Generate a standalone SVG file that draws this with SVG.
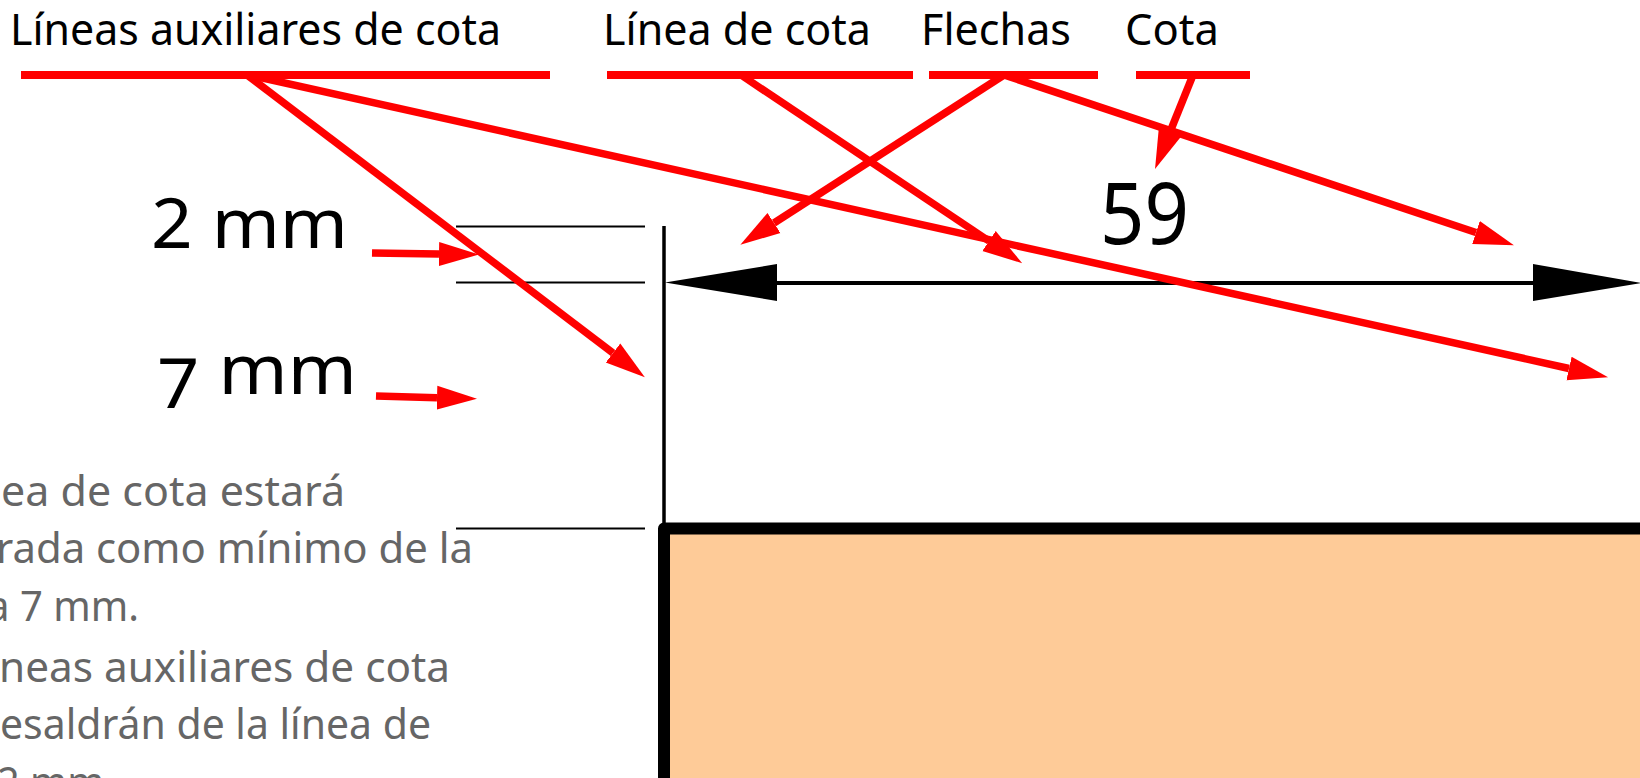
<svg xmlns="http://www.w3.org/2000/svg" width="1640" height="778" viewBox="0 0 1640 778">
<style>
text{font-family:"Noto Sans","Open Sans",sans-serif}
.lab{font-size:44px;fill:#000}
.big{font-size:69px;fill:#000}
.note{font-size:42px;fill:#666}
.red{stroke:#f00;stroke-width:7.500;fill:none}
.bar{stroke:#f00;stroke-width:8;fill:none}
.thin{stroke:#000;stroke-width:2;fill:none}
</style>
<defs>
<marker id="rh" markerUnits="userSpaceOnUse" markerWidth="40" markerHeight="26" refX="0" refY="13" orient="auto" viewBox="0 0 40 26"><polygon points="0,1 40,13 0,25" fill="#f00"/></marker>
</defs>
<rect width="1640" height="778" fill="#fff"/>
<g id="nota">
<text class="note" x="1" y="506" textLength="344" lengthAdjust="spacingAndGlyphs">ea de cota estará</text>
<text class="note" x="-4" y="563" textLength="477" lengthAdjust="spacingAndGlyphs">rada como mínimo de la</text>
<text class="note" x="-13" y="621" textLength="152" lengthAdjust="spacingAndGlyphs">a 7 mm.</text>
<text class="note" x="-1" y="682" textLength="451" lengthAdjust="spacingAndGlyphs">neas auxiliares de cota</text>
<text class="note" x="0" y="739" textLength="431" lengthAdjust="spacingAndGlyphs">esaldrán de la línea de</text>
<text class="note" x="-3" y="797" textLength="118" lengthAdjust="spacingAndGlyphs">2 mm.</text>
</g>
<g id="pieza"><rect x="664" y="528.500" width="1000" height="300" fill="#fecb98" stroke="#000" stroke-width="12" stroke-linejoin="round"/></g>
<g id="auxiliares">
<line class="thin" x1="664" y1="226" x2="664" y2="528" style="stroke-width:3.500"/>
<line class="thin" x1="456" y1="226.500" x2="645" y2="226.500"/>
<line class="thin" x1="456" y1="282.500" x2="645" y2="282.500"/>
<line class="thin" x1="456" y1="528.500" x2="645" y2="528.500"/>
</g>
<g id="cota-linea">
<line x1="770" y1="283" x2="1540" y2="283" stroke="#000" stroke-width="4"/>
<polygon points="665,282.500 777,264 777,301" fill="#000"/>
<polygon points="1641,283 1533,264 1533,301" fill="#000"/>
</g>
<g id="etiquetas">
<text id="t1" class="lab" x="10" y="45" textLength="491" lengthAdjust="spacingAndGlyphs">Líneas auxiliares de cota</text>
<text id="t2" class="lab" x="603" y="45" textLength="268" lengthAdjust="spacingAndGlyphs">Línea de cota</text>
<text id="t3" class="lab" x="921" y="45" textLength="150" lengthAdjust="spacingAndGlyphs">Flechas</text>
<text id="t4" class="lab" x="1125" y="45" textLength="94" lengthAdjust="spacingAndGlyphs">Cota</text>
<text id="t5" class="big" x="151" y="248" textLength="197" lengthAdjust="spacingAndGlyphs">2 mm</text>
<text id="t6" class="big" x="157" y="394" textLength="200" lengthAdjust="spacingAndGlyphs"><tspan dy="14">7</tspan><tspan dy="-14"> mm</tspan></text>
<text id="t7" class="lab" x="1100" y="244" textLength="89" lengthAdjust="spacingAndGlyphs" style="font-size:86px">59</text>
</g>
<g id="conectores">
<line class="bar" x1="21" y1="75" x2="550" y2="75"/>
<line class="bar" x1="607" y1="75" x2="913" y2="75"/>
<line class="bar" x1="929" y1="75" x2="1098" y2="75"/>
<line class="bar" x1="1136" y1="75" x2="1250" y2="75"/>
<line class="red" x1="247" y1="75" x2="613" y2="353" marker-end="url(#rh)"/>
<line class="red" x1="249" y1="75" x2="1569" y2="368.500" marker-end="url(#rh)"/>
<line class="red" x1="741" y1="75" x2="989" y2="241" marker-end="url(#rh)"/>
<line class="red" x1="1004" y1="75" x2="774" y2="223" marker-end="url(#rh)"/>
<line class="red" x1="1004" y1="75" x2="1476" y2="232.500" marker-end="url(#rh)"/>
<line class="red" x1="1193" y1="75" x2="1170" y2="132" marker-end="url(#rh)"/>
<line class="red" x1="372" y1="253" x2="439" y2="254" marker-end="url(#rh)"/>
<line class="red" x1="376" y1="396" x2="437" y2="397.700" marker-end="url(#rh)"/>
</g>
</svg>
